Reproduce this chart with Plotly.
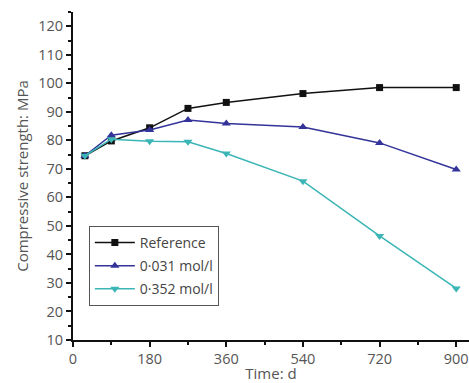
import plotly.graph_objects as go

days = [28, 90, 180, 270, 360, 540, 720, 900]
reference = [74.6, 79.8, 84.4, 91.2, 93.3, 96.4, 98.5, 98.5]
c_0031 = [74.6, 81.8, 83.6, 87.1, 85.9, 84.7, 79.1, 69.8]
c_0352 = [74.6, 80.4, 79.7, 79.5, 75.4, 65.7, 46.5, 28.1]
names = ["Reference", "0·031 mol/l", "0·352 mol/l"]
colors = ["#111111", "#33339a", "#3bb5b5"]
symbols = ["square", "triangle-up", "triangle-down"]
xticks = [0, 180, 360, 540, 720, 900]
yticks = list(range(10, 130, 10))

fig = go.Figure()
for i, (vals, nm, col, sym) in enumerate(zip([reference, c_0031, c_0352], names, colors, symbols)):
    fig.add_trace(go.Scatter(
        x=days, y=vals, name=nm, mode="lines+markers", legendgroup=f"g{i}",
        line=dict(color=col, width=1.5),
        marker=dict(symbol=sym, size=8 if sym != "square" else 7, color=col),
    ))

axis_font = dict(family="Open Sans, sans-serif", size=14.5, color="#555555")
fig.update_layout(
    width=469, height=383,
    margin=dict(l=73, r=0, t=12, b=43),
    plot_bgcolor="white", paper_bgcolor="white",
    font=dict(family="Open Sans, sans-serif", size=14, color="#444444"),
    showlegend=True,
    legend=dict(
        x=0.04, y=0.348, xanchor="left", yanchor="top",
        bordercolor="#555555", borderwidth=1, bgcolor="white",
        font=dict(size=14, color="#444444"),
        tracegroupgap=2, itemwidth=40, entrywidth=132,
    ),
    xaxis=dict(
        range=[0, 930], tickvals=xticks, ticks="outside", ticklen=5, tickwidth=2,
        tickcolor="#111111", showline=True, linecolor="#111111", linewidth=2,
        showgrid=False, zeroline=False, tickfont=axis_font, ticklabeloverflow="allow",
        minor=dict(dtick=90, ticks="outside", ticklen=3, tickwidth=2, tickcolor="#111111", showgrid=False),
        title=dict(text="Time: d", font=dict(size=15, color="#555555"), standoff=0),
    ),
    yaxis=dict(
        range=[10, 125], tickvals=yticks, ticks="outside", ticklen=5, tickwidth=2,
        tickcolor="#111111", showline=True, linecolor="#111111", linewidth=2,
        showgrid=False, zeroline=False, tickfont=axis_font,
        minor=dict(dtick=5, ticks="outside", ticklen=3, tickwidth=2, tickcolor="#111111", showgrid=False),
        title=dict(text="Compressive strength: MPa", font=dict(size=15, color="#555555"), standoff=6),
    ),
)
fig.write_html("out.html")
